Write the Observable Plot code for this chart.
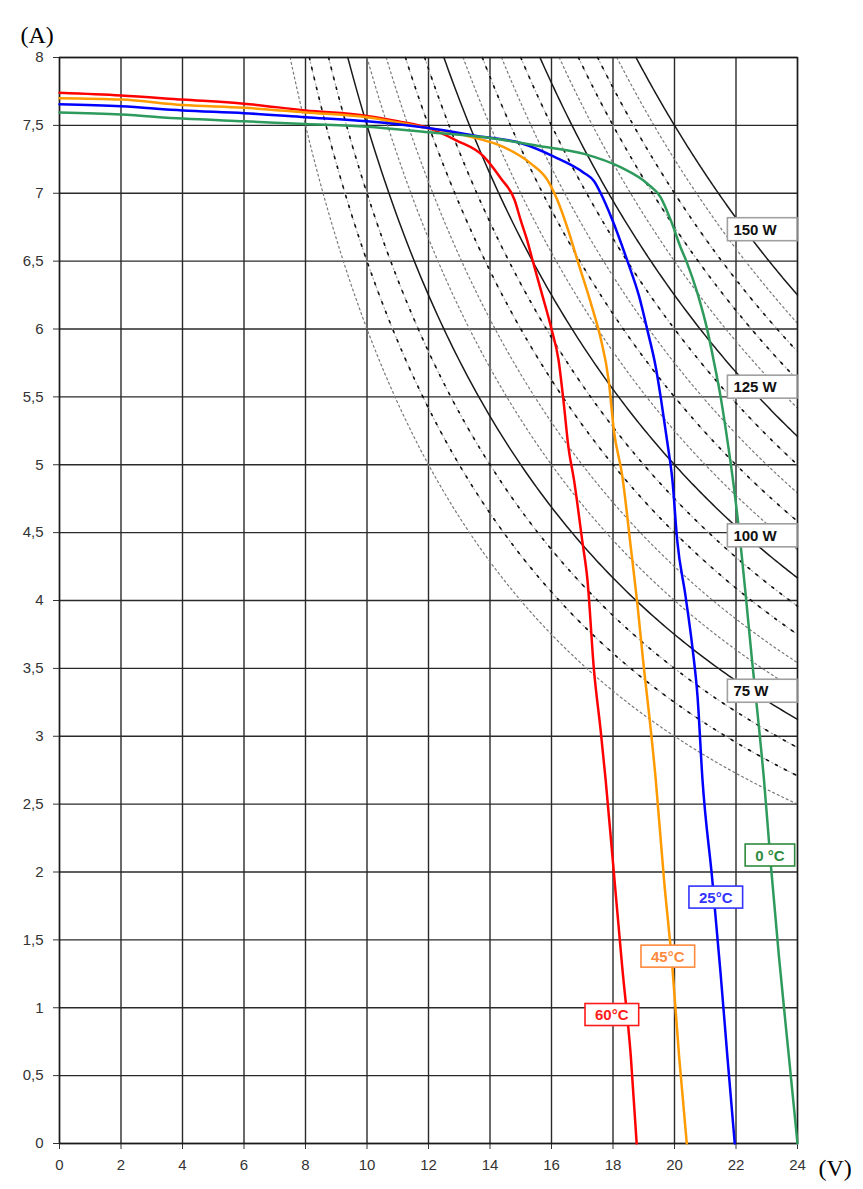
<!DOCTYPE html>
<html><head><meta charset="utf-8">
<script src="https://cdn.jsdelivr.net/npm/d3@7"></script>
<script src="https://cdn.jsdelivr.net/npm/@observablehq/plot@0.6"></script>
<style>
html,body{margin:0;padding:0;background:#fff;}
#chart{position:relative;width:863px;height:1189px;}
</style></head><body><div id="chart"></div>
<script>
// ---- tick values ----
const xTicks = [0,2,4,6,8,10,12,14,16,18,20,22,24];
const yTicks = [0,0.5,1,1.5,2,2.5,3,3.5,4,4.5,5,5.5,6,6.5,7,7.5,8];

// ---- I-V curves (V in volts, I in amperes) ----
const v60 = [0,2,4,6,8,10,11,12,12.9,13.8,14.35,14.8,15.0,15.2,15.38,15.7,16.0,16.23,16.4,16.55,16.73,17.0,17.17,17.38,17.6,17.76,18.03,18.3,18.58,18.77];
const i60 = [7.74,7.72,7.69,7.66,7.61,7.57,7.53,7.48,7.39,7.27,7.11,6.95,6.80,6.66,6.51,6.25,6.0,5.77,5.45,5.13,4.89,4.44,4.15,3.49,3.04,2.68,1.99,1.30,0.64,0];

const v45 = [0,2,4,6,8,10,11.74,13.3,14.45,15.32,15.86,16.19,16.51,16.88,17.32,17.59,17.86,18.03,18.3,18.58,18.79,19.01,19.17,19.39,19.66,19.93,20.15,20.40];
const i45 = [7.70,7.69,7.65,7.63,7.595,7.56,7.49,7.42,7.34,7.22,7.10,6.95,6.75,6.48,6.16,5.94,5.62,5.25,4.92,4.39,3.98,3.49,3.17,2.68,1.94,1.30,0.64,0];

const v25 = [0,2,4,6,8,10,12,13.62,14.99,16.08,17.06,17.38,17.6,17.95,18.47,18.85,19.12,19.39,19.55,19.77,19.93,20.09,20.36,20.58,20.75,20.91,21.23,21.5,21.72,21.96];
const i25 = [7.655,7.64,7.61,7.59,7.56,7.53,7.48,7.42,7.37,7.27,7.15,7.09,7.0,6.82,6.50,6.24,5.99,5.72,5.50,5.16,4.89,4.44,4.03,3.66,3.29,2.68,1.94,1.25,0.64,0];

const v0 = [0,2,4,6,8,10,12,13.91,15.54,17.06,18.26,19.12,19.55,19.88,20.2,20.42,20.75,21.07,21.29,21.5,21.72,21.9,22.16,22.32,22.53,22.7,22.91,23.13,23.4,23.72,24.0];
const i0 = [7.595,7.58,7.55,7.53,7.51,7.49,7.45,7.41,7.35,7.29,7.19,7.07,6.97,6.80,6.60,6.48,6.26,5.99,5.75,5.50,5.18,4.89,4.39,4.03,3.54,3.17,2.68,2.06,1.37,0.64,0];

// ---- constant power lines (W) ----
const powerLevels = [60,65,70,75,80,85,90,95,100,105,110,115,120,125,130,135,140,145,150];
const solidPowers = [75,100,125,150];
const darkDottedPowers = [65,70,90,95,110,120,135,140];

// ---- labels ----
const tempLabels = ["60°C","45°C","25°C","0 °C"];
const tempLabelV = [17.96,19.78,21.34,23.10];
const tempLabelI = [0.945,1.375,1.81,2.12];
const tempColors = ["#ff1a1a","#ff8a3d","#3333ff","#2e8b3e"];

const powerLabels = ["150 W","125 W","100 W","75 W"];
const powerLabelV = [21.72,21.72,21.72,21.72];
const powerLabelI = [6.73,5.57,4.475,3.33];

// build tables
const series = (vs, is) => vs.map((v, k) => ({v, i: is[k]}));
const hyper = [];
for (const p of powerLevels) {
  const v0p = p / 8;
  const n = 150;
  for (let k = 0; k <= n; k++) {
    const v = v0p + (24 - v0p) * k / n;
    hyper.push({p, v, i: p / v});
  }
}
const hSolid = hyper.filter(d => solidPowers.includes(d.p));
const hDark = hyper.filter(d => darkDottedPowers.includes(d.p));
const hGray = hyper.filter(d => !solidPowers.includes(d.p) && !darkDottedPowers.includes(d.p));
const tempTable = tempLabels.map((t, k) => ({t, v: tempLabelV[k], i: tempLabelI[k], c: tempColors[k]}));
const powerTable = powerLabels.map((t, k) => ({t, v: powerLabelV[k], i: powerLabelI[k]}));

const plot = Plot.plot({
  width: 863, height: 1189,
  marginLeft: 59, marginRight: 66, marginTop: 57, marginBottom: 46,
  style: {fontFamily: "'Liberation Sans', Arial, sans-serif", fontSize: "15px", color: "#333", background: "#fff"},
  x: {domain: [0, 24], ticks: xTicks, tickSize: 6, tickPadding: 10, label: null, tickFormat: d => String(d)},
  y: {domain: [0, 8], ticks: yTicks, tickSize: 6, tickPadding: 10, label: null, tickFormat: d => String(d).replace(".", ",")},
  marks: [
    Plot.ruleX(xTicks, {stroke: "#2a2a2a", strokeWidth: 1.4}),
    Plot.ruleY(yTicks, {stroke: "#2a2a2a", strokeWidth: 1.4}),
    Plot.line(hGray, {x: "v", y: "i", z: "p", stroke: "#7a7a7a", strokeWidth: 1.2, strokeDasharray: "2,3"}),
    Plot.line(hDark, {x: "v", y: "i", z: "p", stroke: "#aaaaaa", strokeWidth: 1.1, strokeDasharray: "1.5,3"}),
    Plot.line(hDark, {x: "v", y: "i", z: "p", stroke: "#111", strokeWidth: 1.6, strokeDasharray: "2.2,8"}),
    Plot.line(hSolid, {x: "v", y: "i", z: "p", stroke: "#1a1a1a", strokeWidth: 1.5}),
    Plot.frame({stroke: "#1a1a1a", strokeWidth: 1.4}),
    Plot.line(series(v60, i60), {x: "v", y: "i", stroke: "#ff0000", strokeWidth: 2.5, curve: "monotone-x"}),
    Plot.line(series(v45, i45), {x: "v", y: "i", stroke: "#ff9a00", strokeWidth: 2.5, curve: "monotone-x"}),
    Plot.line(series(v25, i25), {x: "v", y: "i", stroke: "#0000ff", strokeWidth: 2.5, curve: "monotone-x"}),
    Plot.line(series(v0, i0), {x: "v", y: "i", stroke: "#2e9a5c", strokeWidth: 2.5, curve: "monotone-x"}),
    Plot.text(tempTable, {x: "v", y: "i", text: "t", fill: d => d.c, fontWeight: "bold", fontSize: 15, ariaLabel: "temp-labels"}),
    Plot.text(powerTable, {x: "v", y: "i", text: "t", fill: "#111", fontWeight: "bold", fontSize: 15, textAnchor: "start", dx: 6, ariaLabel: "power-labels"}),
    Plot.text(["(A)"], {frameAnchor: "top-left", text: d => d, dx: -39, dy: -32, textAnchor: "start", fontSize: 24, fill: "#000", fontFamily: "'Liberation Serif', 'Times New Roman', serif"}),
    Plot.text(["(V)"], {frameAnchor: "bottom-right", text: d => d, dx: 21, dy: 32, textAnchor: "start", fontSize: 24, fill: "#000", fontFamily: "'Liberation Serif', 'Times New Roman', serif"})
  ]
});
document.getElementById("chart").appendChild(plot);

// label boxes (drawn behind the label texts, in SVG root coordinates)
const rightEdge = plot.scale("x").apply(24);
const svgBox = plot.getBoundingClientRect();
const boxes = [];
d3.select(plot).selectAll("text").each(function() {
  const txt = this.textContent;
  const ti = tempLabels.indexOf(txt);
  const pi = powerLabels.indexOf(txt);
  if (ti < 0 && pi < 0) return;
  const r = this.getBoundingClientRect();
  const x = r.left - svgBox.left, y = r.top - svgBox.top;
  let g = this.parentNode;
  while (g.parentNode !== plot) g = g.parentNode;
  if (ti >= 0) {
    boxes.push({g, x: x - 10, y: y - 2.5, w: r.width + 20, h: r.height + 5, stroke: tempColors[ti]});
  } else {
    boxes.push({g, x: x - 6, y: y - 3, w: rightEdge - (x - 6), h: r.height + 6, stroke: "#a0a0a0"});
  }
});
for (const b of boxes) {
  const rect = document.createElementNS("http://www.w3.org/2000/svg", "rect");
  rect.setAttribute("x", b.x);
  rect.setAttribute("y", b.y);
  rect.setAttribute("width", b.w);
  rect.setAttribute("height", b.h);
  rect.setAttribute("fill", "#fff");
  rect.setAttribute("stroke", b.stroke);
  rect.setAttribute("stroke-width", 1.6);
  plot.insertBefore(rect, b.g);
}
</script>
</body></html>
